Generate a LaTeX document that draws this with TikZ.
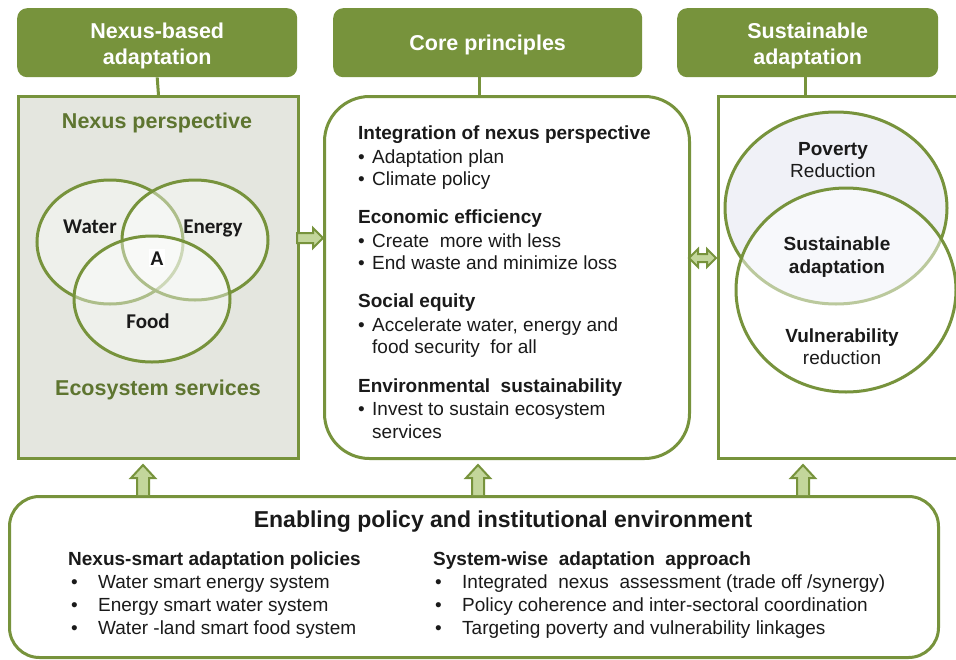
\documentclass[tikz,border=0pt]{standalone}
\usepackage{fontspec}
\setmainfont{Liberation Sans}
\newfontfamily\calib{Carlito}
\definecolor{olive}{HTML}{77933C}
\definecolor{olivetext}{HTML}{5E7530}
\definecolor{arrfill}{HTML}{C3D69B}
\definecolor{panelgrey}{HTML}{E4E6DF}
\definecolor{txt}{HTML}{1A1A1A}
\definecolor{povfill}{HTML}{F0F1F7}
\tikzset{
  header/.style={fill=olive, rounded corners=10pt, inner sep=0pt, anchor=north west},
  headtext/.style={text=white, align=center, font=\fontsize{21.5}{26}\selectfont\bfseries, inner sep=0pt},
  panel/.style={draw=olive, line width=3pt, inner sep=0pt, anchor=north west},
  link/.style={draw=olive, line width=3pt},
  blockarr/.style={draw=olive, line width=2pt, fill=arrfill, line join=miter},
  venn/.style={draw=olive, line width=3pt, fill=white, fill opacity=0.4},
  body/.style={font=\fontsize{19}{22}\selectfont, text=txt, inner sep=0pt},
  bodyb/.style={font=\fontsize{19}{22}\selectfont\bfseries, text=txt, inner sep=0pt},
  greenlab/.style={font=\fontsize{21.5}{26}\selectfont\bfseries, text=olivetext, inner sep=0pt, anchor=base},
  vennlab/.style={font=\calib\fontsize{21}{24}\selectfont\bfseries, text=txt, inner sep=0pt, anchor=base},
}
\newcommand\bul[1]{\makebox[#1][l]{\textbullet}}
\newcommand\myuparr[1]{%
  \draw[blockarr] (#1-6,495) -- (#1-6,478) -- (#1-12,478) -- (#1,465) -- (#1+12,478) -- (#1+6,478) -- (#1+6,495);}
\begin{document}
\begin{tikzpicture}[x=1pt,y=-1pt]
\useasboundingbox[fill=white] (0,0) rectangle (956,659);

% headers
\node[header, minimum width=280pt, minimum height=69pt] (hL) at (17,8) {};
\node[header, minimum width=309pt, minimum height=69pt] (hC) at (333,8) {};
\node[header, minimum width=261pt, minimum height=69pt] (hR) at (677,8) {};
\node[headtext] (hLt) at ([yshift=-3pt]hL.center) {Nexus-based\\adaptation};
\node[headtext] (hCt) at ([yshift=-2pt]hC.center) {Core principles};
\node[headtext] (hRt) at ([yshift=-3pt]hR.center) {Sustainable\\adaptation};

% panels
\node[panel, fill=panelgrey, minimum width=280pt, minimum height=362pt] (pL) at (17,95) {};
\node[panel, fill=white, rounded corners=45pt, minimum width=365pt, minimum height=362pt] (pC) at (323,95) {};
\node[panel, fill=white, minimum width=245pt, minimum height=362pt] (pR) at (717,95) {};
\node[panel, fill=white, rounded corners=30pt, minimum width=929pt, minimum height=161pt] (pB) at (8,495) {};

% header links
\coordinate (mc) at (479,0);
\coordinate (rc) at (805,0);
\draw[link] (hL.south) -- (pL.north);
\draw[link] (hC.south -| mc) -- (pC.north -| mc);
\draw[link] (hR.south -| rc) -- (pR.north -| rc);

% block arrows
\draw[blockarr] (297,233) -- (313,233) -- (313,228) -- (323,238) -- (313,248) -- (313,243) -- (297,243) -- cycle;
\draw[blockarr] (689,258) -- (698,249) -- (698,254) -- (707,254) -- (707,249) -- (716,258) -- (707,267) -- (707,262) -- (698,262) -- (698,267) -- cycle;
\myuparr{143}
\myuparr{478}
\myuparr{803}

% left panel: nexus Venn
\node[greenlab] (np) at (157,128) {Nexus perspective};
\draw[venn] (110,242) ellipse [x radius=73pt, y radius=62pt];
\draw[venn] (195,240) ellipse [x radius=73pt, y radius=60pt];
\draw[venn] (152,299) ellipse [x radius=78pt, y radius=63pt];
\node[vennlab] (vw) at (90,233) {Water};
\node[vennlab] (ve) at (213,233) {Energy};
\node[vennlab, fill=white, inner sep=2pt] (va) at (157,265) {A};
\node[vennlab] (vf) at (148,328) {Food};
\node[greenlab] (es) at (158,395) {Ecosystem services};

% right panel circles
\draw[draw=olive, line width=3pt, fill=povfill] (836,208) ellipse [x radius=111pt, y radius=96pt];
\draw[venn, fill opacity=0.5] (846,290) ellipse [x radius=110pt, y radius=102pt];
\node[bodyb, anchor=base] (r1) at (833,155) {Poverty};
\node[body, anchor=base] (r2) at (833,177) {Reduction};
\node[bodyb, anchor=base] (r3) at (837,250) {Sustainable};
\node[bodyb, anchor=base] (r4) at (837,273) {adaptation};
\node[bodyb, anchor=base] (r5) at (842,342) {Vulnerability};
\node[body, anchor=base] (r6) at (842,364) {reduction};

% middle panel text
\node[bodyb, anchor=base west] (c1) at (358,139) {Integration of nexus perspective};
\node[body, anchor=base west] (c2) at (358,163) {\bul{14pt}Adaptation plan};
\node[body, anchor=base west] (c3) at (358,185) {\bul{14pt}Climate policy};
\node[bodyb, anchor=base west] (c4) at (358,223) {Economic efficiency};
\node[body, anchor=base west] (c5) at (358,247) {\bul{14pt}Create\ \ more with less};
\node[body, anchor=base west] (c6) at (358,269) {\bul{14pt}End waste and minimize loss};
\node[bodyb, anchor=base west] (c7) at (358,307) {Social equity};
\node[body, anchor=base west] (c8) at (358,331) {\bul{14pt}Accelerate water, energy and};
\node[body, anchor=base west] (c9) at (372,353) {food security\ \ for all};
\node[bodyb, anchor=base west] (c10) at (358,392) {Environmental\ \ sustainability};
\node[body, anchor=base west] (c11) at (358,415) {\bul{14pt}Invest to sustain ecosystem};
\node[body, anchor=base west] (c12) at (372,438) {services};

% bottom panel text
\node[font=\fontsize{23}{26}\selectfont\bfseries, text=txt, inner sep=0pt, anchor=base] (bt) at (503,527) {Enabling policy and institutional environment};
\node[bodyb, anchor=base west] (b1) at (68,565) {Nexus-smart adaptation policies};
\node[body, anchor=base west] (b2) at (71,588) {\bul{27pt}Water smart energy system};
\node[body, anchor=base west] (b3) at (71,611) {\bul{27pt}Energy smart water system};
\node[body, anchor=base west] (b4) at (71,634) {\bul{27pt}Water -land smart food system};
\node[bodyb, anchor=base west] (b5) at (433,565) {System-wise\ \ adaptation\ \ approach};
\node[body, anchor=base west] (b6) at (435,588) {\bul{27pt}Integrated\ \ nexus\ \ assessment (trade off /synergy)};
\node[body, anchor=base west] (b7) at (435,611) {\bul{27pt}Policy coherence and inter-sectoral coordination};
\node[body, anchor=base west] (b8) at (435,634) {\bul{27pt}Targeting poverty and vulnerability linkages};
\end{tikzpicture}
\end{document}
